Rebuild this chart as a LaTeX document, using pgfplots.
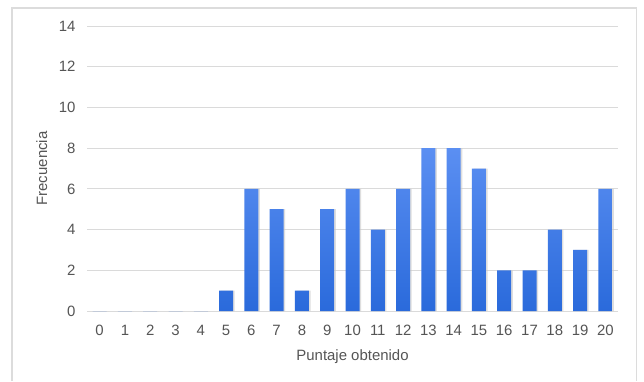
\documentclass[border=0pt]{standalone}
\usepackage{pgfplots}
\pgfplotsset{compat=1.18}
\usepackage{fontspec}
\setmainfont{Liberation Sans}

\definecolor{frameGray}{HTML}{DCDCDC}
\definecolor{gridGray}{HTML}{DADADA}
\definecolor{labelGray}{HTML}{555555}
\definecolor{barTop}{HTML}{5B8FF2}
\definecolor{barMid}{HTML}{3A82F7}
\definecolor{barBot}{HTML}{2A6ADB}
\definecolor{shadowGray}{HTML}{C8C8C8}

% Frequency of each score (0 to 20)
\pgfplotstableread{
puntaje frecuencia
0 0
1 0
2 0
3 0
4 0
5 1
6 6
7 5
8 1
9 5
10 6
11 4
12 6
13 8
14 8
15 7
16 2
17 2
18 4
19 3
20 6
}\datos

\begin{document}
\begin{tikzpicture}[x=1bp,y=1bp]
\path[use as bounding box, fill=white] (0,0) rectangle (644,381);
% chart frame (open at the bottom)
\draw[frameGray, line width=1.3bp] (12,0) -- (12,373) -- (636.5,373) -- (636.5,0);
\begin{axis}[
  at={(87bp,70bp)}, anchor=south west,
  scale only axis, width=531bp, height=285bp,
  xmin=-0.5, xmax=20.5, ymin=0, ymax=14,
  xtick={0,...,20}, ytick={0,2,...,14},
  major tick length=0pt,
  /pgf/number format/assume math mode=true,
  axis x line*=bottom, axis y line*=left,
  x axis line style={draw=gridGray, line width=0.9bp, -},
  y axis line style={draw=none},
  ymajorgrids, grid style={gridGray, line width=0.9bp},
  tick label style={font=\fontsize{15}{18}\selectfont, text=labelGray},
  xticklabel style={yshift=-10.5bp},
  yticklabel style={xshift=-8bp},
  label style={font=\fontsize{15}{18}\selectfont, text=labelGray},
  xlabel={Puntaje obtenido},
  ylabel={Frecuencia},
  xlabel style={at={(axis description cs:0.5,0)}, anchor=base, yshift=-49bp},
  ylabel style={at={(axis description cs:-0.0753,0.5)}, anchor=base},
]
% soft shadow to the right of each bar
\addplot[ybar, bar width=14bp, bar shift=1.6bp, draw=none, fill=shadowGray, opacity=0.6]
  table[x=puntaje, y=frecuencia] {\datos};
\addplot[ybar, bar width=14bp, bar shift=0pt, draw=none,
  top color=barTop, middle color=barMid, bottom color=barBot]
  table[x=puntaje, y=frecuencia] {\datos};
\end{axis}
\end{tikzpicture}
\end{document}
